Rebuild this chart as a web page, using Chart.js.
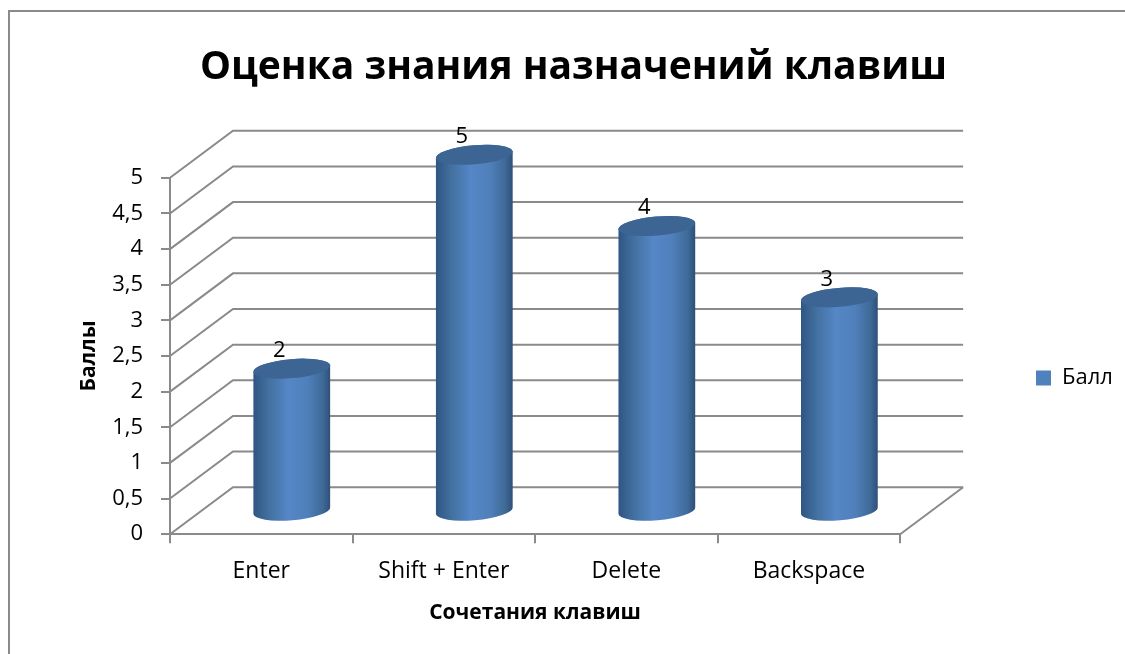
<!DOCTYPE html>
<html>
<head>
<meta charset="utf-8">
<script src="https://cdn.jsdelivr.net/npm/chart.js@4/dist/chart.umd.min.js"></script>
<style>
  html, body { margin: 0; padding: 0; background: #fff; }
  #wrap { position: relative; width: 1125px; height: 654px; overflow: hidden; }
  #frame { position: absolute; left: 8px; top: 10px; width: 1200px; height: 700px; border: 2px solid #8a8a8a; }
  canvas { position: absolute; left: 0; top: 0; }
</style>
</head>
<body>
<div id="wrap"><div id="frame"></div><canvas id="c" width="1125" height="654"></canvas></div>
<script>
const categories = ['Enter', 'Shift + Enter', 'Delete', 'Backspace'];
const values = [2, 5, 4, 3];
const seriesName = 'Балл';
const chartTitle = 'Оценка знания назначений клавиш';
const xTitle = 'Сочетания клавиш';
const yTitle = 'Баллы';

const FONT = '"Open Sans", "Noto Sans", sans-serif';
const GRID = '#8a8a8a';
// depth of the fake 3d box
const DX = 63, DY = 47;

const walls = {
  id: 'walls',
  beforeDatasetsDraw(chart) {
    const { ctx, chartArea: a } = chart;
    const y = chart.scales.y;
    ctx.save();
    ctx.strokeStyle = GRID;
    ctx.lineWidth = 2;
    y.ticks.forEach(t => {
      const py = y.getPixelForValue(t.value);
      ctx.beginPath();
      ctx.moveTo(a.left, py);
      ctx.lineTo(a.left + DX, py - DY);
      ctx.lineTo(a.right + DX, py - DY);
      ctx.stroke();
    });
    // right side of the floor
    ctx.beginPath();
    ctx.moveTo(a.right + DX, a.bottom - DY);
    ctx.lineTo(a.right, a.bottom);
    ctx.stroke();
    ctx.restore();
  }
};

const cylinders = {
  id: 'cylinders',
  beforeDatasetDraw(chart, args) {
    const { ctx } = chart;
    const tilt = -0.085, ry = 9.5;
    args.meta.data.forEach((bar, i) => {
      const r = bar.width / 2;
      const cx = bar.x + 30.5;
      const top = bar.y - 23;
      const base = bar.base - 22.5;
      const g = ctx.createLinearGradient(cx - r, 0, cx + r, 0);
      g.addColorStop(0, '#2f5583');
      g.addColorStop(0.2, '#42709f');
      g.addColorStop(0.45, '#5586c6');
      g.addColorStop(0.7, '#5080bb');
      g.addColorStop(0.9, '#3f6a98');
      g.addColorStop(1, '#2e4f78');
      ctx.save();
      ctx.fillStyle = g;
      ctx.beginPath();
      ctx.ellipse(cx, top, r, ry, tilt, Math.PI, 0, false);
      ctx.ellipse(cx, base, r, ry, tilt, 0, Math.PI, false);
      ctx.closePath();
      ctx.fill();
      ctx.fillStyle = '#3c6593';
      ctx.beginPath();
      ctx.ellipse(cx, top, r, ry, tilt, 0, Math.PI * 2);
      ctx.fill();
      // value label
      ctx.fillStyle = '#000';
      ctx.font = '22px ' + FONT;
      ctx.textAlign = 'center';
      ctx.textBaseline = 'middle';
      ctx.fillText(String(values[i]), bar.x + 18, bar.y - 41);
      ctx.restore();
    });
    return false;
  }
};

const legendSpot = {
  id: 'legendSpot',
  afterLayout(chart) {
    const l = chart.legend;
    const w = l.right - l.left;
    const h = l.bottom - l.top;
    l.left = 1028; l.right = l.left + w;
    l.top = 359; l.bottom = l.top + h;
    // title sits right of the canvas centre in the original
    chart.titleBlock.left += 40;
    chart.titleBlock.right += 40;
  }
};

new Chart(document.getElementById('c'), {
  type: 'bar',
  data: {
    labels: categories,
    datasets: [{
      label: seriesName,
      data: values,
      backgroundColor: '#4f81bd',
      categoryPercentage: 1,
      barPercentage: 0.422
    }]
  },
  plugins: [walls, cylinders, legendSpot],
  options: {
    responsive: false,
    animation: false,
    layout: { padding: { left: 72, right: 130, top: 44, bottom: 24 } },
    plugins: {
      title: {
        display: true, text: chartTitle, color: '#000',
        font: { family: FONT, size: 39, weight: 'bold' },
        padding: { top: 0, bottom: 87 }
      },
      legend: {
        position: 'right',
        align: 'start',
        labels: { boxWidth: 15, boxHeight: 15, padding: 8, color: '#000', font: { family: FONT, size: 22 } }
      },
      tooltip: { enabled: false }
    },
    scales: {
      x: {
        grid: { offset: true, drawOnChartArea: false, color: GRID, lineWidth: 2, tickLength: 9 },
        border: { color: GRID, width: 2 },
        ticks: { color: '#000', padding: 14, maxRotation: 0, font: { family: FONT, size: 23 } },
        title: { display: true, text: xTitle, color: '#000', font: { family: FONT, size: 21, weight: 'bold' }, padding: { top: 2 } }
      },
      y: {
        min: 0, max: 5,
        afterFit: s => { s.width = 98; },
        grid: { drawOnChartArea: false, color: GRID, lineWidth: 2, tickLength: 9 },
        border: { color: GRID, width: 2 },
        ticks: {
          stepSize: 0.5, color: '#000', padding: 18,
          font: { family: FONT, size: 22 },
          callback: v => String(v).replace('.', ',')
        },
        title: { display: true, text: yTitle, color: '#000', font: { family: FONT, size: 21, weight: 'bold' }, padding: { bottom: 0 } }
      }
    }
  }
});
</script>
</body>
</html>
